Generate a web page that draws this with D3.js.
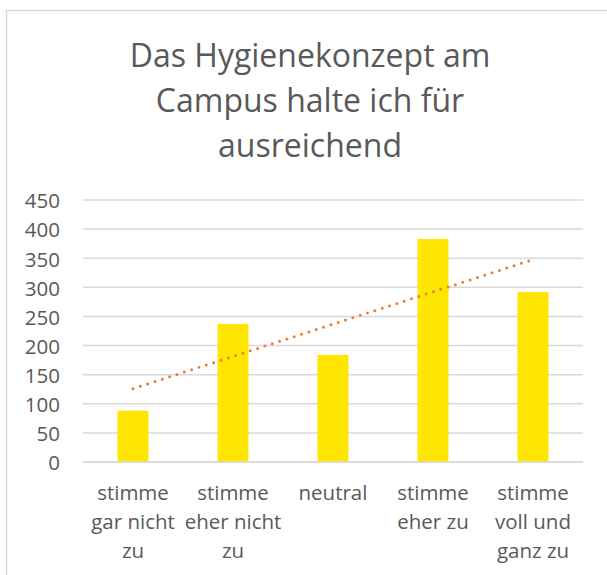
<!DOCTYPE html>
<html>
<head>
<meta charset="utf-8">
<script src="https://cdn.jsdelivr.net/npm/d3@7"></script>
<style>
  body { margin: 0; background: #fff; }
  text { font-family: "Open Sans", sans-serif; fill: #595959; }
</style>
</head>
<body>
<div id="chart"></div>
<script>
// chart values
var titleLines = ["Das Hygienekonzept am", "Campus halte ich für", "ausreichend"];
var categories = ["gar nicht", "eher nicht", "neutral", "eher zu", "voll und ganz"];
var labelLines = [
    ["stimme", "gar nicht", "zu"],
    ["stimme", "eher nicht", "zu"],
    ["neutral"],
    ["stimme", "eher zu"],
    ["stimme", "voll und", "ganz zu"]
];
var counts = [88, 237, 184, 383, 292];
var yTicks = [0, 50, 100, 150, 200, 250, 300, 350, 400, 450];

(function () {
    var width = 607, height = 575;
    var plot = {left: 83, right: 583, top: 200, bottom: 462};

    var svg = d3.select("#chart").append("svg")
        .attr("width", width)
        .attr("height", height);

    // chart frame
    svg.append("rect")
        .attr("x", 6.5).attr("y", 10.5)
        .attr("width", 640).attr("height", 640)
        .attr("fill", "none")
        .attr("stroke", "#d9d9d9")
        .attr("stroke-width", 1.5);

    var x = d3.scaleBand()
        .domain(categories)
        .range([plot.left, plot.right])
        .paddingInner(0.69)
        .paddingOuter(0.345);

    var y = d3.scaleLinear()
        .domain([0, 450])
        .range([plot.bottom, plot.top]);

    // title
    svg.append("text")
        .attr("text-anchor", "middle")
        .style("font-size", "32px")
        .selectAll("tspan")
        .data(titleLines)
        .enter().append("tspan")
        .attr("x", 310)
        .attr("y", function (d, i) { return 67 + i * 45; })
        .text(function (d) { return d; });

    // gridlines
    svg.append("g")
        .selectAll("line")
        .data(yTicks)
        .enter().append("line")
        .attr("x1", plot.left).attr("x2", plot.right)
        .attr("y1", function (d) { return y(d); })
        .attr("y2", function (d) { return y(d); })
        .attr("stroke", "#d9d9d9")
        .attr("stroke-width", 1.5);

    var yAxis = d3.axisLeft(y).tickValues(yTicks).tickSize(0).tickPadding(0);
    var ga = svg.append("g")
        .attr("transform", "translate(60,0)")
        .call(yAxis);
    ga.select(".domain").remove();
    ga.selectAll("text")
        .style("font-size", "20.5px")
        .style("font-family", "'Open Sans', sans-serif")
        .attr("fill", "#595959")
        .attr("dy", "0.38em");

    // bars
    svg.append("g")
        .selectAll("rect")
        .data(counts)
        .enter().append("rect")
        .attr("x", function (d, i) { return x(categories[i]); })
        .attr("y", function (d) { return y(d); })
        .attr("width", x.bandwidth())
        .attr("height", function (d) { return y(0) - y(d); })
        .attr("fill", "#ffe600");

    // linear trendline
    var n = counts.length;
    var mx = d3.mean(counts, function (d, i) { return i + 1; });
    var my = d3.mean(counts);
    var sxy = d3.sum(counts, function (d, i) { return (i + 1 - mx) * (d - my); });
    var sxx = d3.sum(counts, function (d, i) { return (i + 1 - mx) * (i + 1 - mx); });
    var slope = sxy / sxx, icpt = my - slope * mx;
    var trend = counts.map(function (d, i) { return [i, icpt + slope * (i + 1)]; });

    var line = d3.line()
        .x(function (d) { return x(categories[d[0]]) + x.bandwidth() / 2; })
        .y(function (d) { return y(d[1]); });

    svg.append("path")
        .datum(trend)
        .attr("d", line)
        .attr("fill", "none")
        .attr("stroke", "#ed7d31")
        .attr("stroke-width", 3)
        .attr("stroke-linecap", "round")
        .attr("stroke-dasharray", "0,7.7");

    // x axis line
    svg.append("line")
        .attr("x1", plot.left).attr("x2", plot.right)
        .attr("y1", y(0)).attr("y2", y(0))
        .attr("stroke", "#d9d9d9")
        .attr("stroke-width", 1.5);

    // category labels
    var lab = svg.append("g")
        .selectAll("text")
        .data(labelLines)
        .enter().append("text")
        .attr("text-anchor", "middle")
        .style("font-size", "20.5px");
    lab.selectAll("tspan")
        .data(function (d, i) { return d.map(function (t) { return {t: t, i: i}; }); })
        .enter().append("tspan")
        .attr("x", function (d) { return x(categories[d.i]) + x.bandwidth() / 2; })
        .attr("y", function (d, j) { return 500 + j * 29; })
        .text(function (d) { return d.t; });
}());
</script>
</body>
</html>
